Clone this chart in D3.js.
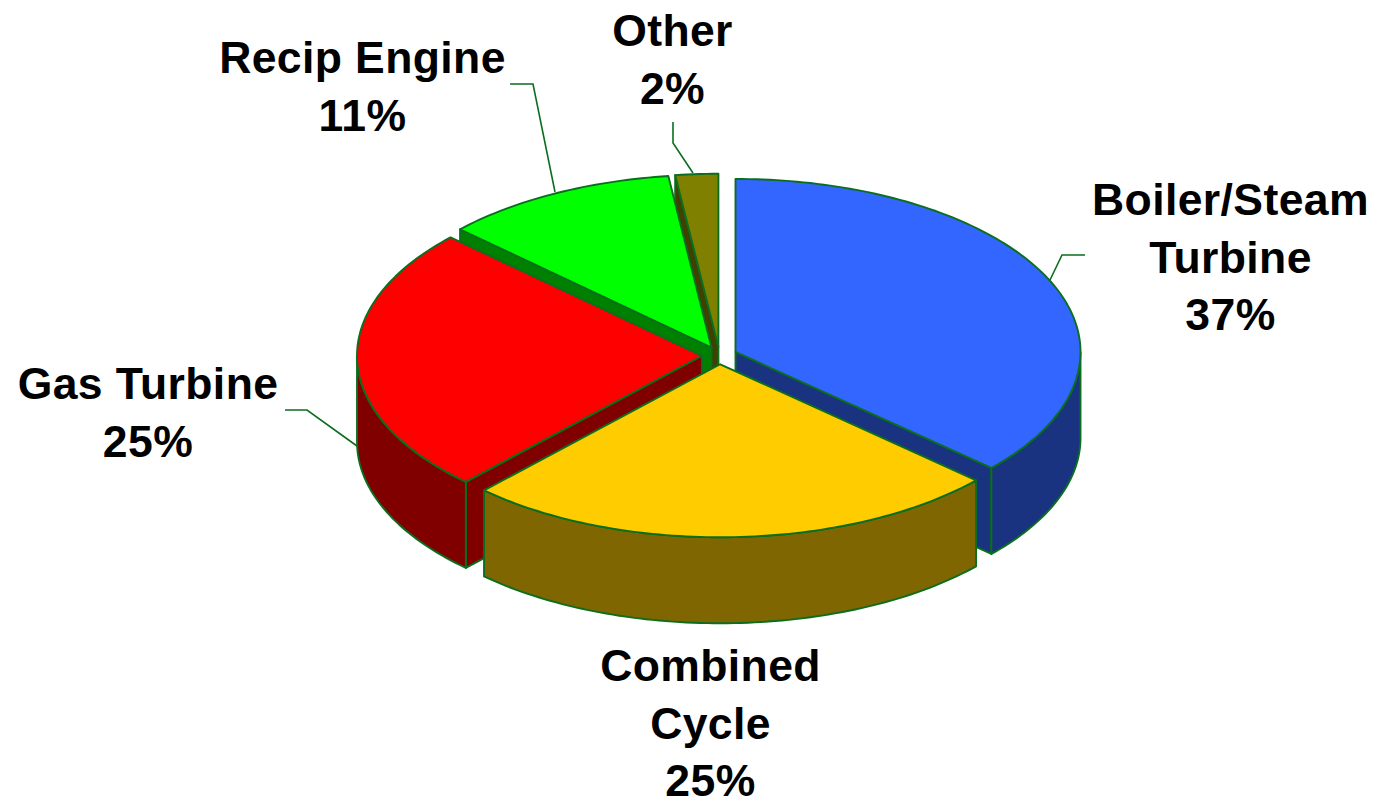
<!DOCTYPE html>
<html><head><meta charset="utf-8">
<script src="https://cdn.jsdelivr.net/npm/d3@7"></script>
<style>html,body{margin:0;padding:0;background:#fff;overflow:hidden}svg{display:block}text{font-family:"Liberation Sans",Arial,sans-serif;font-weight:700;font-size:44.5px;letter-spacing:0.4px;fill:#000;text-anchor:middle}</style>
</head><body><svg id="c" width="1373" height="798"></svg>
<script>
const categories = ["Boiler/Steam Turbine","Combined Cycle","Gas Turbine","Recip Engine","Other"];
const shares = [36.7,25.3,25,11,2];
const topColors = ["#3366FF","#FFCC00","#FF0000","#00FF00","#808000"];
const sideColors = ["#1A3380","#806600","#800000","#008000","#404000"];
const labelLines = [["Boiler/Steam","Turbine"],["Combined","Cycle"],["Gas Turbine"],["Recip Engine"],["Other"]];

const W=1373,H=798, CX=719.5, CY=355.5, RX=345, RY=173, DEPTH=86, EXPLODE=17.5/345, EDGE="#0B6E1E", SW=1.9;
const x=d3.scaleLinear().domain([-1,1]).range([CX-RX,CX+RX]);
const y=d3.scaleLinear().domain([-1,1]).range([CY-RY,CY+RY]);
const svg=d3.select("#c");
const pie=d3.pie().sort(null).value(d=>d);
const arcs=pie(shares);
const line=d3.line();
const pt=(a,off,r=1,dz=0)=>[x(off[0]+r*Math.sin(a)),y(off[1]-r*Math.cos(a))+dz];
const rim=(a0,a1,off,dz)=>{const n=Math.max(2,Math.ceil((a1-a0)/0.02));return d3.range(n+1).map(i=>pt(a0+(a1-a0)*i/n,off,1,dz));};
const shape=(fill,pts)=>svg.append("path").attr("d",line(pts)+"Z").attr("fill",fill).attr("stroke",EDGE).attr("stroke-width",SW).attr("stroke-linejoin","round");

const slices=arcs.map((a,i)=>{const m=(a.startAngle+a.endAngle)/2;return {a0:a.startAngle,a1:a.endAngle,off:[EXPLODE*Math.sin(m),-EXPLODE*Math.cos(m)],top:topColors[i],side:sideColors[i],i};});
// back to front: Other, Recip, Boiler, Gas, Combined
[4,3,0,2,1].forEach(k=>{
  const s=slices[k], c=pt(0,s.off,0);
  const face=(a)=>{const p=pt(a,s.off);shape(s.side,[c,p,[p[0],p[1]+DEPTH],[c[0],c[1]+DEPTH]]);};
  if(Math.sin(s.a0)<-1e-6) face(s.a0);
  if(Math.sin(s.a1)>1e-6) face(s.a1);
  const f0=Math.max(s.a0,Math.PI/2), f1=Math.min(s.a1,3*Math.PI/2);
  if(f1>f0) shape(s.side,[...rim(f0,f1,s.off,0),...rim(f0,f1,s.off,DEPTH).reverse()]);
  shape(s.top,[c,...rim(s.a0,s.a1,s.off,0)]);
});

const leaders=[[[1085,255],[1062,255],[1050,280]],null,[[285,410],[307,410],[357,446]],[[510,84],[533,84],[555,192]],[[673,122],[673,143],[693,173]]];
leaders.forEach(l=>{if(l)svg.append("path").attr("d",line(l)).attr("fill","none").attr("stroke",EDGE).attr("stroke-width",1.6);});

const labelPos=[[1230.5,215],[710.5,681],[148,399],[362.5,73],[672.5,46]];
const LEAD=57.5;
categories.forEach((c,i)=>{
  const lines=[...labelLines[i],Math.round(shares[i])+"%"];
  lines.forEach((t,j)=>svg.append("text").attr("x",labelPos[i][0]).attr("y",labelPos[i][1]+j*LEAD).text(t));
});
</script></body></html>
